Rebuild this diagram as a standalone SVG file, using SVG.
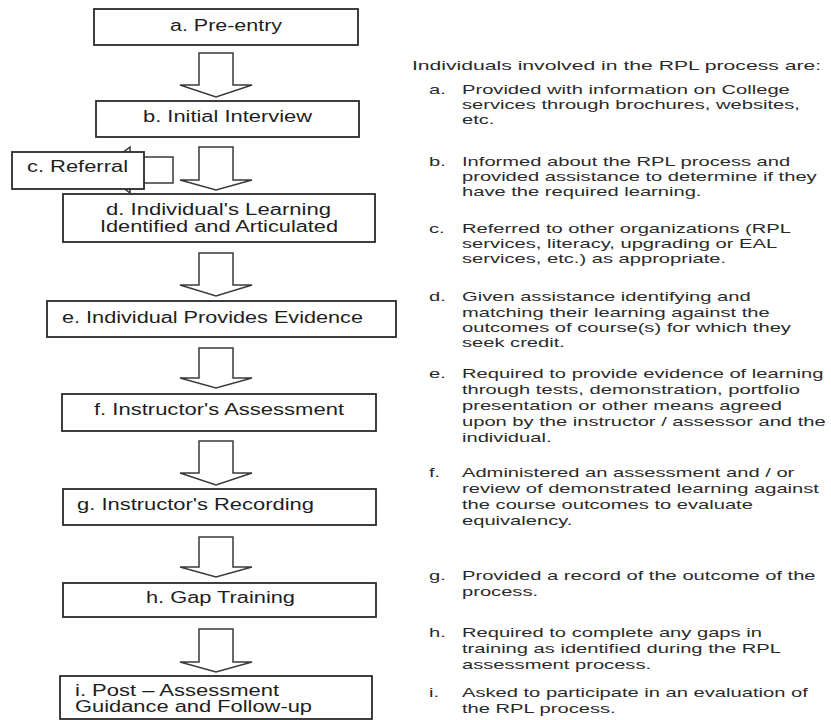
<svg xmlns="http://www.w3.org/2000/svg" width="831" height="720" viewBox="0 0 831 720">
<style>
  .box { fill: #ffffff; stroke: #2a2a2a; stroke-width: 1.8; }
  .arrow { fill: #ffffff; stroke: #3a3a3a; stroke-width: 1.5; stroke-linejoin: miter; }
  .bt { font-family: "Liberation Sans", Arial, sans-serif; font-size: 16px; fill: #1e1e1e; }
  .rt { font-family: "Liberation Sans", Arial, sans-serif; font-size: 13px; fill: #2a2a2a; }
</style>
<rect width="831" height="720" fill="#ffffff"/>

<g id="connectors">
  <polygon class="arrow" points="173,157 173,183 130,183 130,193 100,170 130,147 130,157"/>
  <polygon class="arrow" points="199,53 233,53 233,85 252,85 216,97 180,85 199,85"/>
  <polygon class="arrow" points="199,147 233,147 233,180 252,180 216,190 180,180 199,180"/>
  <polygon class="arrow" points="199,253 233,253 233,285 252,285 216,296 180,285 199,285"/>
  <polygon class="arrow" points="199,348 233,348 233,378 252,378 216,388 180,378 199,378"/>
  <polygon class="arrow" points="199,441 233,441 233,473 252,473 216,485 180,473 199,473"/>
  <polygon class="arrow" points="199,537 233,537 233,567 252,567 216,577 180,567 199,567"/>
  <polygon class="arrow" points="199,629 233,629 233,662 252,662 216,672 180,662 199,662"/>
</g>

<g id="node-a">
  <rect class="box" x="94" y="9" width="264" height="36"/>
  <text class="bt" x="170" y="31" textLength="112" lengthAdjust="spacingAndGlyphs">a. Pre-entry</text>
</g>
<g id="node-b">
  <rect class="box" x="96" y="101" width="263" height="36"/>
  <text class="bt" x="143" y="122" textLength="169" lengthAdjust="spacingAndGlyphs">b. Initial Interview</text>
</g>
<g id="node-c">
  <rect class="box" x="12" y="152" width="132" height="37"/>
  <text class="bt" x="27" y="172" textLength="101" lengthAdjust="spacingAndGlyphs">c. Referral</text>
</g>
<g id="node-d">
  <rect class="box" x="63" y="194" width="312" height="48"/>
  <text class="bt" x="106" y="215" textLength="225" lengthAdjust="spacingAndGlyphs">d. Individual's Learning</text>
  <text class="bt" x="100" y="232" textLength="238" lengthAdjust="spacingAndGlyphs">Identified and Articulated</text>
</g>
<g id="node-e">
  <rect class="box" x="47" y="301" width="349" height="36"/>
  <text class="bt" x="62" y="323" textLength="301" lengthAdjust="spacingAndGlyphs">e. Individual Provides Evidence</text>
</g>
<g id="node-f">
  <rect class="box" x="62" y="394" width="314" height="37"/>
  <text class="bt" x="94" y="415" textLength="250" lengthAdjust="spacingAndGlyphs">f. Instructor's Assessment</text>
</g>
<g id="node-g">
  <rect class="box" x="63" y="489" width="313" height="36"/>
  <text class="bt" x="77" y="510" textLength="237" lengthAdjust="spacingAndGlyphs">g. Instructor's Recording</text>
</g>
<g id="node-h">
  <rect class="box" x="63" y="583" width="313" height="34"/>
  <text class="bt" x="146" y="603" textLength="149" lengthAdjust="spacingAndGlyphs">h. Gap Training</text>
</g>
<g id="node-i">
  <rect class="box" x="60" y="676" width="312" height="43"/>
  <text class="bt" x="75" y="696" textLength="204" lengthAdjust="spacingAndGlyphs">i. Post – Assessment</text>
  <text class="bt" x="75" y="712" textLength="237" lengthAdjust="spacingAndGlyphs">Guidance and Follow-up</text>
</g>

<g id="notes" transform="matrix(1.55 0 0 1 -254.1 0)">
  <text class="rt" x="429.7" y="70" textLength="264" lengthAdjust="spacingAndGlyphs">Individuals involved in the RPL process are:</text>

  <text class="rt" x="440.7" y="94">a.</text>
  <text class="rt" x="462" y="94">Provided with information on College</text>
  <text class="rt" x="462" y="109">services through brochures, websites,</text>
  <text class="rt" x="462" y="124">etc.</text>

  <text class="rt" x="440.7" y="166">b.</text>
  <text class="rt" x="462" y="166">Informed about the RPL process and</text>
  <text class="rt" x="462" y="181">provided assistance to determine if they</text>
  <text class="rt" x="462" y="196">have the required learning.</text>

  <text class="rt" x="440.7" y="233">c.</text>
  <text class="rt" x="462" y="233">Referred to other organizations (RPL</text>
  <text class="rt" x="462" y="248">services, literacy, upgrading or EAL</text>
  <text class="rt" x="462" y="263">services, etc.) as appropriate.</text>

  <text class="rt" x="440.7" y="301">d.</text>
  <text class="rt" x="462" y="301">Given assistance identifying and</text>
  <text class="rt" x="462" y="317">matching their learning against the</text>
  <text class="rt" x="462" y="332">outcomes of course(s) for which they</text>
  <text class="rt" x="462" y="347">seek credit.</text>

  <text class="rt" x="440.7" y="378">e.</text>
  <text class="rt" x="462" y="378">Required to provide evidence of learning</text>
  <text class="rt" x="462" y="394">through tests, demonstration, portfolio</text>
  <text class="rt" x="462" y="410">presentation or other means agreed</text>
  <text class="rt" x="462" y="426">upon by the instructor / assessor and the</text>
  <text class="rt" x="462" y="442">individual.</text>

  <text class="rt" x="440.7" y="477">f.</text>
  <text class="rt" x="462" y="477">Administered an assessment and / or</text>
  <text class="rt" x="462" y="493">review of demonstrated learning against</text>
  <text class="rt" x="462" y="509">the course outcomes to evaluate</text>
  <text class="rt" x="462" y="525">equivalency.</text>

  <text class="rt" x="440.7" y="580">g.</text>
  <text class="rt" x="462" y="580">Provided a record of the outcome of the</text>
  <text class="rt" x="462" y="596">process.</text>

  <text class="rt" x="440.7" y="637">h.</text>
  <text class="rt" x="462" y="637">Required to complete any gaps in</text>
  <text class="rt" x="462" y="653">training as identified during the RPL</text>
  <text class="rt" x="462" y="669">assessment process.</text>

  <text class="rt" x="440.7" y="697">i.</text>
  <text class="rt" x="462" y="697">Asked to participate in an evaluation of</text>
  <text class="rt" x="462" y="713">the RPL process.</text>
</g>
</svg>
